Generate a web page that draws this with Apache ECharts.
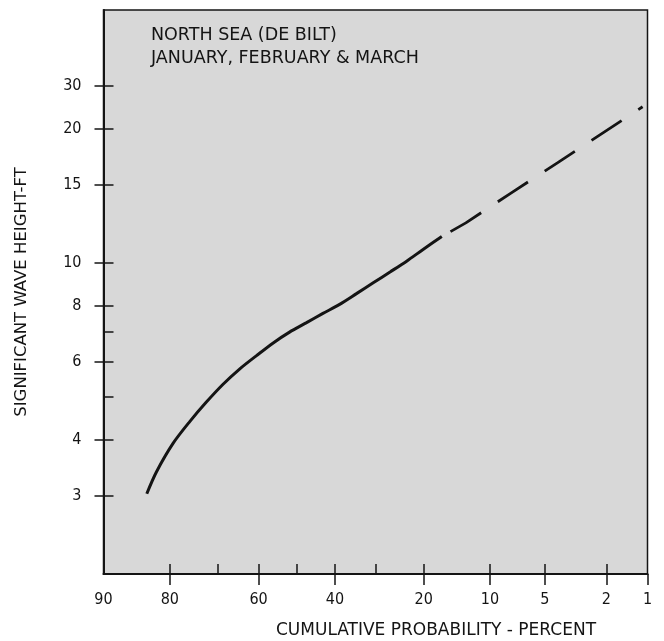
<!DOCTYPE html>
<html><head><meta charset="utf-8">
<script src="https://cdn.jsdelivr.net/npm/echarts@6/dist/echarts.min.js"></script>
<style>html,body{margin:0;padding:0;background:#fff}#c{width:664px;height:641px}</style>
</head><body><div id="c"></div>
<script>
// Cumulative (exceedance) probability in percent, and significant wave height in ft
const solidProb = [84.0, 82.4, 79.4, 76.1, 72.6, 68.8, 64.7, 60.5, 56.2, 51.9, 47.4, 43.1, 38.8, 34.6, 30.6, 26.8, 23.3, 20.1, 16.8];
const solidHeight = [3.03, 3.39, 3.93, 4.40, 4.86, 5.33, 5.78, 6.19, 6.61, 6.99, 7.34, 7.70, 8.07, 8.53, 9.02, 9.54, 10.09, 10.72, 11.46];
const dashProb = [16.8, 13.1, 7.77, 4.17, 1.79, 1.09];
const dashHeight = [11.46, 12.30, 14.35, 16.80, 20.29, 22.43];

const xTickValues = [90, 80, 60, 40, 20, 10, 5, 2, 1];
const xTickLabels = ['90', '80', '60', '40', '20', '10', '5', '2', '1'];
const xOuterTicks = [80, 60, 40, 20, 10, 5, 2, 1];
const xInnerTicks = [80, 70, 60, 50, 40, 30, 20, 10, 5, 2];
const yTickValues = [3, 4, 6, 8, 10, 15, 20, 25];
const yTickLabels = ['3', '4', '6', '8', '10', '15', '20', '30'];
const yInnerTicks = [3, 4, 5, 6, 7, 8, 10, 15, 20, 25];
const xRange = [90, 1];
const yRange = [2, 37];

const titleLines = ['NORTH SEA (DE BILT)', 'JANUARY, FEBRUARY & MARCH'];
const xName = 'CUMULATIVE PROBABILITY - PERCENT';
const yName = 'SIGNIFICANT WAVE HEIGHT-FT';

// inverse standard normal CDF (Acklam) for the normal-probability axis
function probit(p) {
  const a = [-3.969683028665376e+01, 2.209460984245205e+02, -2.759285104469687e+02, 1.383577518672690e+02, -3.066479806614716e+01, 2.506628277459239e+00];
  const b = [-5.447609879822406e+01, 1.615858368580409e+02, -1.556989798598866e+02, 6.680131188771972e+01, -1.328068155288572e+01];
  const c = [-7.784894002430293e-03, -3.223964580411365e-01, -2.400758277161838e+00, -2.549671010134511e+00, 4.374664141464968e+00, 2.938163982698783e+00];
  const d = [7.784695709041462e-03, 3.224671290700398e-01, 2.445134137142996e+00, 3.754408661907416e+00];
  const pl = 0.02425, ph = 1 - pl;
  let q, r;
  if (p < pl) {
    q = Math.sqrt(-2 * Math.log(p));
    return (((((c[0]*q+c[1])*q+c[2])*q+c[3])*q+c[4])*q+c[5]) / ((((d[0]*q+d[1])*q+d[2])*q+d[3])*q+1);
  } else if (p <= ph) {
    q = p - 0.5; r = q * q;
    return (((((a[0]*r+a[1])*r+a[2])*r+a[3])*r+a[4])*r+a[5])*q / (((((b[0]*r+b[1])*r+b[2])*r+b[3])*r+b[4])*r+1);
  } else {
    q = Math.sqrt(-2 * Math.log(1 - p));
    return -(((((c[0]*q+c[1])*q+c[2])*q+c[3])*q+c[4])*q+c[5]) / ((((d[0]*q+d[1])*q+d[2])*q+d[3])*q+1);
  }
}
const px = pct => probit(1 - pct / 100);
const hy = h => Math.log10(h);

function lookup(values, labels, f) {
  return function (v) {
    for (let i = 0; i < values.length; i++) if (Math.abs(f(values[i]) - v) < 1e-6) return labels[i];
    return '';
  };
}

const NUMFONT = "'DejaVu Sans Condensed', 'Liberation Sans Narrow', 'DejaVu Sans', sans-serif";
const TXTFONT = "'DejaVu Sans', sans-serif";
const INK = '#141414';

const chart = echarts.init(document.getElementById('c'), null, { renderer: 'canvas' });

const xCommon = { type: 'value', min: px(xRange[0]), max: px(xRange[1]), position: 'bottom', gridIndex: 0, splitLine: { show: false } };
const yCommon = { type: 'value', min: hy(yRange[0]), max: hy(yRange[1]), position: 'left', gridIndex: 0, splitLine: { show: false } };

chart.setOption({
  animation: false,
  backgroundColor: '#ffffff',
  grid: { left: 103.5, right: 16.5, top: 10, bottom: 67, show: true, backgroundColor: '#d8d8d8', borderColor: INK, borderWidth: 1.5 },
  xAxis: [
    Object.assign({}, xCommon, {
      axisLine: { show: true, onZero: false, lineStyle: { color: INK, width: 2 } },
      axisTick: { show: true, inside: false, length: 11, lineStyle: { color: INK, width: 1.5 }, customValues: xOuterTicks.map(px) },
      axisLabel: { show: true, margin: 18, color: INK, fontFamily: NUMFONT, fontSize: 16, customValues: xTickValues.map(px), formatter: lookup(xTickValues, xTickLabels, px) }
    }),
    Object.assign({}, xCommon, {
      axisLine: { show: false, onZero: false },
      axisTick: { show: true, inside: true, length: 10, lineStyle: { color: INK, width: 1.5 }, customValues: xInnerTicks.map(px) },
      axisLabel: { show: false }
    })
  ],
  yAxis: [
    Object.assign({}, yCommon, {
      name: yName, nameLocation: 'middle', nameGap: 73, nameRotate: 90,
      nameTextStyle: { color: INK, fontFamily: TXTFONT, fontSize: 16.5 },
      axisLine: { show: true, onZero: false, lineStyle: { color: INK, width: 2 } },
      axisTick: { show: true, inside: false, length: 9, lineStyle: { color: INK, width: 1.5 }, customValues: yTickValues.map(hy) },
      axisLabel: { show: true, margin: 22, color: INK, fontFamily: NUMFONT, fontSize: 16, customValues: yTickValues.map(hy), formatter: lookup(yTickValues, yTickLabels, hy) }
    }),
    Object.assign({}, yCommon, {
      axisLine: { show: false, onZero: false },
      axisTick: { show: true, inside: true, length: 10, lineStyle: { color: INK, width: 1.5 }, customValues: yInnerTicks.map(hy) },
      axisLabel: { show: false }
    })
  ],
  graphic: [
    { type: 'text', left: 151, top: 24, style: { text: titleLines.join('\n'), font: '17.5px ' + TXTFONT, fill: INK, lineHeight: 23 } },
    { type: 'text', x: 436, y: 631, style: { text: xName, font: '17px ' + TXTFONT, fill: INK, textAlign: 'center', textVerticalAlign: 'middle' } }
  ],
  series: [
    {
      type: 'line', xAxisIndex: 0, yAxisIndex: 0, showSymbol: false, smooth: 0.3,
      lineStyle: { color: INK, width: 3 },
      data: solidProb.map((p, i) => [px(p), hy(solidHeight[i])])
    },
    {
      type: 'line', xAxisIndex: 0, yAxisIndex: 0, showSymbol: false, smooth: false,
      lineStyle: { color: INK, width: 2.8, type: [36, 20], dashOffset: 46 },
      data: dashProb.map((p, i) => [px(p), hy(dashHeight[i])])
    }
  ]
});
</script>
</body></html>
